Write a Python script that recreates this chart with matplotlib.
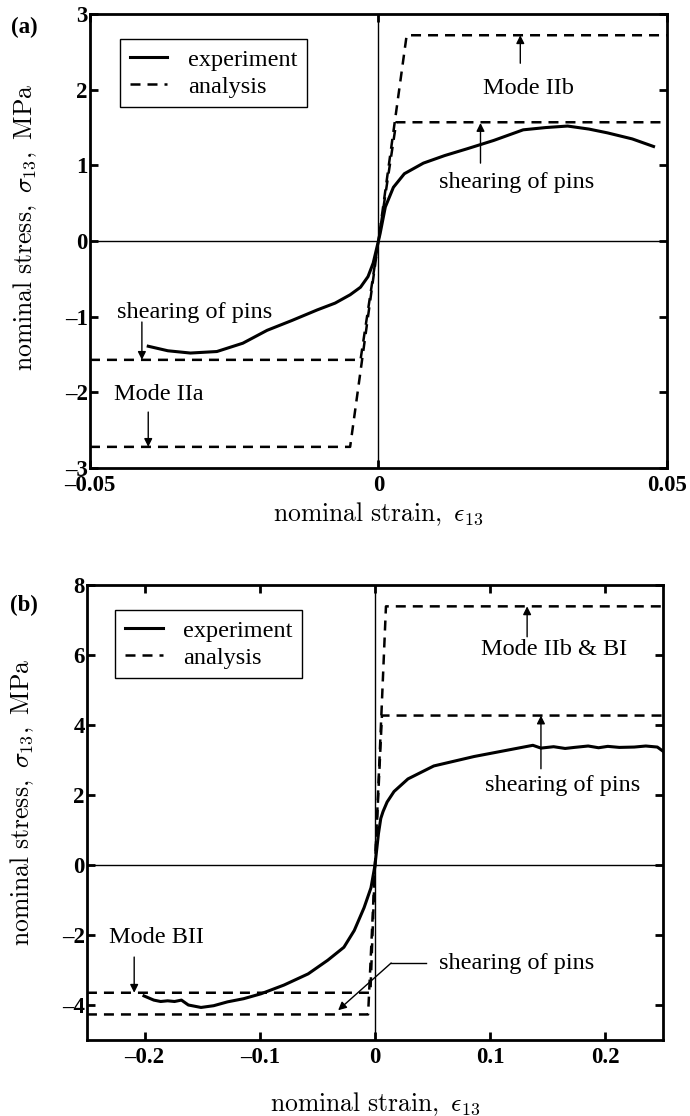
import matplotlib
matplotlib.use("Agg")
import matplotlib.pyplot as plt

plt.rcParams['font.family'] = ['Liberation Serif', 'DejaVu Serif']
plt.rcParams['mathtext.fontset'] = 'cm'

# ---- panel (a) data ----
a_exp_strain = [-0.0399, -0.0365, -0.0326, -0.028, -0.0235, -0.0193, -0.015, -0.0106,
                -0.0075, -0.0049, -0.0031, -0.0018, -0.0009, 0.0, 0.0003, 0.0012,
                0.0026, 0.0045, 0.0078, 0.0115, 0.0154, 0.02, 0.0251, 0.029,
                0.0328, 0.0365, 0.0397, 0.0440, 0.0477]
a_exp_stress = [-1.39, -1.45, -1.48, -1.46, -1.35, -1.18, -1.05, -0.91,
                -0.82, -0.71, -0.61, -0.47, -0.29, 0.0, 0.10, 0.45,
                0.71, 0.89, 1.03, 1.13, 1.22, 1.33, 1.47, 1.50,
                1.52, 1.48, 1.43, 1.35, 1.25]
a_pins_strain = [-0.05, -0.0031, 0.0031, 0.05]
a_pins_stress = [-1.57, -1.57, 1.57, 1.57]
a_mode_strain = [-0.05, -0.0049, 0.0049, 0.05]
a_mode_stress = [-2.72, -2.72, 2.72, 2.72]

# ---- panel (b) data ----
b_exp_strain = [-0.2005, -0.192, -0.186, -0.18, -0.174, -0.168, -0.162, -0.151,
                -0.14, -0.128, -0.114, -0.099, -0.079, -0.058, -0.041, -0.027,
                -0.018, -0.0095, -0.0035, 0.0, 0.003, 0.005, 0.007, 0.0105,
                0.0165, 0.0286, 0.051, 0.086, 0.129, 0.137, 0.144, 0.155,
                0.165, 0.173, 0.185, 0.194, 0.202, 0.212, 0.225, 0.235,
                0.245, 0.25]
b_exp_stress = [-3.74, -3.86, -3.9, -3.88, -3.9, -3.86, -4.0, -4.07,
                -4.02, -3.91, -3.82, -3.68, -3.43, -3.11, -2.72, -2.35,
                -1.87, -1.22, -0.65, 0.0, 0.9, 1.33, 1.53, 1.8,
                2.1, 2.46, 2.83, 3.1, 3.37, 3.42, 3.34, 3.38,
                3.33, 3.36, 3.40, 3.35, 3.39, 3.36, 3.37, 3.40,
                3.37, 3.25]
b_pins_strain = [-0.25, -0.006, 0.0, 0.006, 0.25]
b_pins_stress = [-4.27, -4.27, 0.0, 4.27, 4.27]
b_mode_strain = [-0.25, -0.004, 0.0, 0.0095, 0.25]
b_mode_stress = [-3.65, -3.65, 0.0, 7.39, 7.39]

# annotations: text, text position, arrow tail, arrow head
a_notes = [("Mode IIb", (0.026, 2.02), (0.0246, 2.35), (0.0246, 2.72)),
           ("shearing of pins", (0.024, 0.78), (0.0177, 1.03), (0.0177, 1.56)),
           ("shearing of pins", (-0.0319, -0.95), (-0.041, -1.07), (-0.041, -1.57)),
           ("Mode IIa", (-0.0381, -2.03), (-0.0399, -2.26), (-0.0399, -2.72))]
b_notes = [("Mode IIb & BI", (0.155, 6.15), (0.132, 6.52), (0.132, 7.39)),
           ("shearing of pins", (0.163, 2.27), (0.144, 2.75), (0.144, 4.27)),
           ("Mode BII", (-0.19, -2.07), (-0.209, -2.63), (-0.209, -3.65))]
b_side_note = ("shearing of pins", (0.123, -2.8), (0.044, -2.8), (0.014, -2.8), (-0.032, -4.15))

XLABEL = r"$\mathrm{nominal\ strain,}\ \epsilon_{13}$"
YLABEL = r"$\mathrm{nominal\ stress,}\ \sigma_{13}\mathrm{,\ MPa}$"

TXT = 17.5
LBL = 18.5
DASH = (4, 2.8)


def style_axes(ax, xticks, xlabels, yticks):
    for s in ax.spines.values():
        s.set_linewidth(2.0)
    ax.axhline(0, color='k', lw=1.0, zorder=1)
    ax.axvline(0, color='k', lw=1.0, zorder=1)
    ax.set_xticks(xticks)
    ax.set_xticklabels(xlabels)
    ax.set_yticks(yticks)
    ax.set_yticklabels([str(v).replace('-', '\u2013') for v in yticks])
    ax.tick_params(direction='in', length=6, width=2.0, top=True, right=True,
                   labelsize=16.5, pad=1.5)
    for lab in ax.get_xticklabels() + ax.get_yticklabels():
        lab.set_fontweight('bold')
    ax.tick_params(axis='x', pad=5)
    ax.set_xlabel(XLABEL, fontsize=LBL)
    ax.set_ylabel(YLABEL, fontsize=LBL)


def draw_legend(ax, anchor):
    leg = ax.legend(loc='upper left', bbox_to_anchor=anchor, borderaxespad=0,
                    fontsize=TXT, frameon=True, fancybox=False, framealpha=1,
                    edgecolor='k', handlelength=1.55, handletextpad=0.85,
                    labelspacing=0.2, borderpad=0.4)
    leg.get_frame().set_linewidth(1.0)


def draw_notes(ax, notes):
    for text, tpos, tail, head in notes:
        ax.text(tpos[0], tpos[1], text, fontsize=TXT, ha='center', va='center')
        ax.annotate('', xy=head, xytext=tail,
                    arrowprops=dict(arrowstyle='-|>', color='k', lw=1.0,
                                    mutation_scale=12, shrinkA=0, shrinkB=0))


fig = plt.figure(figsize=(6.9, 11.16), dpi=100)

# ---------------- (a) ----------------
ax1 = fig.add_axes([0.1304, 0.5806, 0.836, 0.4068])
ax1.plot(a_exp_strain, a_exp_stress, color='k', lw=2.2, label='experiment', zorder=3)
l1, = ax1.plot(a_mode_strain, a_mode_stress, color='k', lw=1.8, label='analysis')
l2, = ax1.plot(a_pins_strain, a_pins_stress, color='k', lw=1.8)
for ln in (l1, l2):
    ln.set_dashes(DASH)
ax1.set_xlim(-0.05, 0.05)
ax1.set_ylim(-3, 3)
style_axes(ax1, [-0.05, 0, 0.05], ['\u20130.05', '0', '0.05'], [-3, -2, -1, 0, 1, 2, 3])
ax1.xaxis.set_label_coords(0.5, -0.072)
ax1.yaxis.set_label_coords(-0.088, 0.53)
draw_legend(ax1, (0.052, 0.945))
draw_notes(ax1, a_notes)
fig.text(24 / 690, 1 - 27 / 1116, '(a)', fontsize=16.5, fontweight='bold', ha='center', va='center')

# ---------------- (b) ----------------
ax2 = fig.add_axes([0.126, 0.0681, 0.835, 0.4077])
ax2.plot(b_exp_strain, b_exp_stress, color='k', lw=2.2, label='experiment', zorder=3)
l3, = ax2.plot(b_mode_strain, b_mode_stress, color='k', lw=1.8, label='analysis')
l4, = ax2.plot(b_pins_strain, b_pins_stress, color='k', lw=1.8)
for ln in (l3, l4):
    ln.set_dashes(DASH)
ax2.set_xlim(-0.25, 0.25)
ax2.set_ylim(-5, 8)
style_axes(ax2, [-0.2, -0.1, 0, 0.1, 0.2], ['\u20130.2', '\u20130.1', '0', '0.1', '0.2'],
           [-4, -2, 0, 2, 4, 6, 8])
ax2.xaxis.set_label_coords(0.5, -0.11)
ax2.yaxis.set_label_coords(-0.089, 0.522)
draw_legend(ax2, (0.049, 0.945))
draw_notes(ax2, b_notes)
text, tpos, p0, p1, head = b_side_note
ax2.text(tpos[0], tpos[1], text, fontsize=TXT, ha='center', va='center')
ax2.plot([p0[0], p1[0]], [p0[1], p1[1]], color='k', lw=1.0)
ax2.annotate('', xy=head, xytext=p1,
             arrowprops=dict(arrowstyle='-|>', color='k', lw=1.0,
                             mutation_scale=12, shrinkA=0, shrinkB=0))
fig.text(24 / 690, 1 - 605 / 1116, '(b)', fontsize=16.5, fontweight='bold', ha='center', va='center')

fig.savefig('out.png', dpi=100)
